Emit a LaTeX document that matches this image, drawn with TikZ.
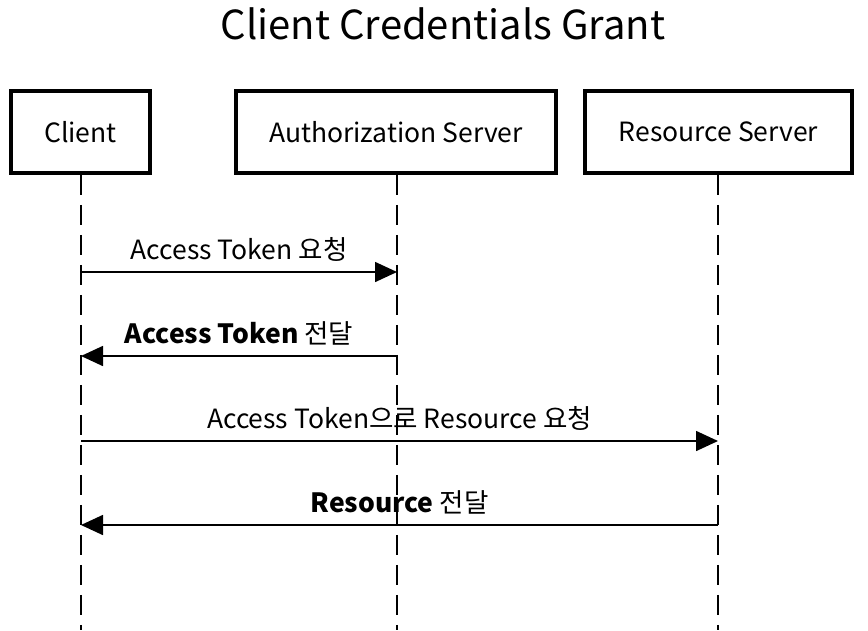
\documentclass[tikz,border=0pt]{standalone}
\usepackage{fontspec}
\setmainfont{Noto Sans CJK KR}
\usetikzlibrary{arrows.meta}
\begin{document}
\begin{tikzpicture}[x=1pt,y=-1pt,
  actor/.style={draw,line width=3.5pt,minimum height=82pt,inner sep=0pt,font=\fontsize{26.5}{30}\selectfont},
  life/.style={line width=1.6pt,dash pattern=on 20pt off 10pt},
  msg/.style={line width=1.6pt,-{Triangle[length=22pt,width=20pt]}},
  lbl/.style={font=\fontsize{26.5}{30}\selectfont,above=8pt,inner sep=2pt}]
\useasboundingbox (0,0) rectangle (868,630);
\node[font=\fontsize{40}{44}\selectfont] (title) at (443,24) {Client Credentials Grant};
\node[actor,minimum width=139pt] (client) at (80.5,132) {Client};
\node[actor,minimum width=320pt] (auth) at (396,132) {Authorization Server};
\node[actor,minimum width=267pt] (res) at (718.5,132) {Resource Server};
\coordinate (cb) at (81,630);
\coordinate (ab) at (397,630);
\coordinate (rb) at (718,630);
\draw[life] (client.south -| cb) -- (cb);
\draw[life] (auth.south -| ab) -- (ab);
\draw[life] (res.south -| rb) -- (rb);
\coordinate (c1) at (81,272); \coordinate (a1) at (397,272);
\coordinate (c2) at (81,356); \coordinate (a2) at (397,356);
\coordinate (c3) at (81,441); \coordinate (r3) at (718,441);
\coordinate (c4) at (81,525); \coordinate (r4) at (718,525);
\draw[msg] (c1) -- node[lbl] (l1) {Access Token 요청} (a1);
\draw[msg] (a2) -- node[lbl] (l2) {\textbf{Access Token} 전달} (c2);
\draw[msg] (c3) -- node[lbl] (l3) {Access Token으로 Resource 요청} (r3);
\draw[msg] (r4) -- node[lbl] (l4) {\textbf{Resource} 전달} (c4);
\end{tikzpicture}
\end{document}
